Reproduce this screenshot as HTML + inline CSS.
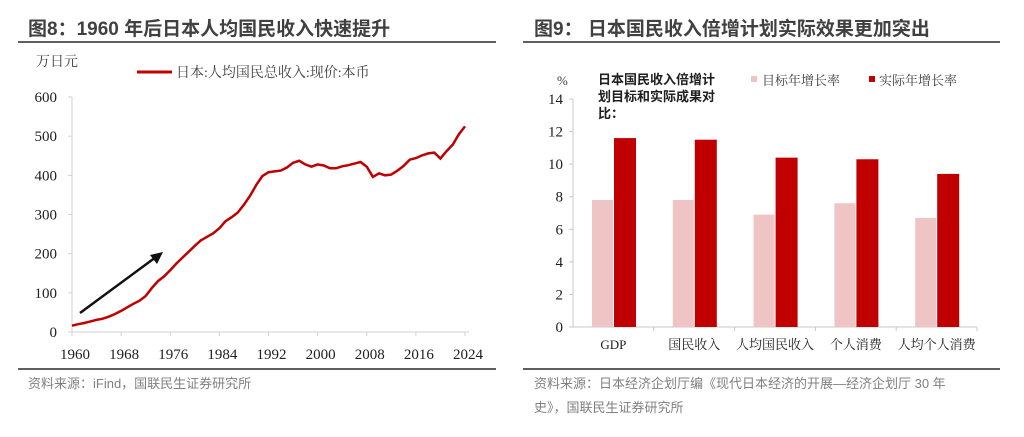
<!DOCTYPE html>
<html><head><meta charset="utf-8">
<style>
body{margin:0;width:1024px;height:432px;background:#fff;overflow:hidden;font-family:"Liberation Sans","Noto Sans CJK SC",sans-serif;}
svg text{font-family:"Liberation Serif","Noto Serif CJK SC",serif;}
.t{font-family:"Liberation Sans","Noto Sans CJK SC",sans-serif;}
</style></head><body>
<svg id="s" width="1024" height="432" xmlns="http://www.w3.org/2000/svg">
<text class="t" x="28" y="35" font-size="19" font-weight="bold" fill="#404040">图8：1960 年后日本人均国民收入快速提升</text>
<line x1="18" y1="42" x2="496" y2="42" stroke="#606060" stroke-width="2"/>
<text class="t" x="534" y="35" font-size="19" font-weight="bold" fill="#404040">图9：  日本国民收入倍增计划实际效果更加突出</text>
<line x1="523" y1="42" x2="1000" y2="42" stroke="#606060" stroke-width="2"/>
<line x1="18" y1="369" x2="496" y2="369" stroke="#606060" stroke-width="2"/>
<line x1="523" y1="369" x2="1000" y2="369" stroke="#606060" stroke-width="2"/>
<text class="t" x="28" y="388" font-size="13" fill="#808080">资料来源：iFind，国联民生证券研究所</text>
<text class="t" x="534" y="388" font-size="13" fill="#808080">资料来源：日本经济企划厅编《现代日本经济的开展—经济企划厅 30 年</text>
<text class="t" x="534" y="412" font-size="13" fill="#808080">史》，国联民生证券研究所</text>
<text x="36" y="66" font-size="14" fill="#404040">万日元</text>
<line x1="137" y1="72" x2="172" y2="72" stroke="#c00000" stroke-width="3"/>
<text x="176" y="77" font-size="14" fill="#404040">日本:人均国民总收入:现价:本币</text>
<g id="left"></g>
<g id="right"></g>
<text x="557" y="85" font-size="13" fill="#404040">%</text>
<text class="t" x="598" y="84" font-size="13" font-weight="bold" fill="#202020">日本国民收入倍增计</text>
<text class="t" x="598" y="101" font-size="13" font-weight="bold" fill="#202020">划目标和实际成果对</text>
<text class="t" x="598" y="118" font-size="13" font-weight="bold" fill="#202020">比：</text>
<rect x="751" y="76" width="6" height="6" fill="#efc4c4"/>
<text x="762" y="85" font-size="13" fill="#404040">目标年增长率</text>
<rect x="869" y="76" width="6" height="6" fill="#c00000"/>
<text x="879" y="85" font-size="13" fill="#404040">实际年增长率</text>
</svg>
<script>
const years=[];for(let y=1960;y<=2024;y++)years.push(y);
const gni=[16,20,23,27,31,34,39,46,54,63,72,80,92,112,130,142,158,175,190,205,220,234,243,252,265,283,293,305,325,348,375,398,408,410,412,420,432,437,428,422,428,425,418,418,423,426,430,434,422,396,405,400,402,412,424,440,444,451,456,458,443,462,478,505,525];
const leftYTicks=[0,100,200,300,400,500,600];
const leftXTicks=[1960,1968,1976,1984,1992,2000,2008,2016,2024];
const cats=["GDP","国民收入","人均国民收入","个人消费","人均个人消费"];
const target=[7.8,7.8,6.9,7.6,6.7];
const actual=[11.6,11.5,10.4,10.3,9.4];
const rightYTicks=[0,2,4,6,8,10,12,14];
const NS="http://www.w3.org/2000/svg";
function mk(p,t,a,txt){const e=document.createElementNS(NS,t);for(const k in a)e.setAttribute(k,a[k]);if(txt!==undefined)e.textContent=txt;p.appendChild(e);return e;}
const L=document.getElementById('left');
const lx=y=>72+(y-1960)*(465-72)/64, ly=v=>332-v*(332-97)/600;
let e=mk(L,'line',{x1:72,y1:97,x2:72,y2:332,stroke:'#d0d0d0'});

e=mk(L,'line',{x1:68,y1:332,x2:469,y2:332,stroke:'#d0d0d0'});

leftYTicks.forEach(v=>{e=mk(L,'text',{x:57,y:ly(v)+5,'font-size':15,'text-anchor':'end',fill:'#202020'},v);

mk(L,'line',{x1:68,y1:ly(v),x2:72,y2:ly(v),stroke:'#d0d0d0'});});
leftXTicks.forEach(y=>{e=mk(L,'text',{x:lx(y)+3,y:359,'font-size':15,'text-anchor':'middle',fill:'#202020'},y);

mk(L,'line',{x1:lx(y),y1:332,x2:lx(y),y2:336,stroke:'#d0d0d0'});});
e=mk(L,'path',{d:gni.map((v,i)=>(i?'L':'M')+lx(years[i]).toFixed(1)+','+ly(v).toFixed(1)).join(''),fill:'none',stroke:'#c00000','stroke-width':2.5});

e=mk(L,'line',{x1:80,y1:313,x2:156,y2:257,stroke:'#111','stroke-width':2.5});

mk(L,'polygon',{points:'163,252 150,255 157,264',fill:'#111'});
const R=document.getElementById('right');
const rx0=573,gw=(977-573)/5, ry=v=>327-v*(327-99)/14;
e=mk(R,'line',{x1:573,y1:99,x2:573,y2:327,stroke:'#c8c8c8'});

e=mk(R,'line',{x1:573,y1:327,x2:977,y2:327,stroke:'#c8c8c8'});

rightYTicks.forEach(v=>{e=mk(R,'text',{x:563,y:ry(v)+5,'font-size':15,'text-anchor':'end',fill:'#202020'},v);

mk(R,'line',{x1:569,y1:ry(v),x2:573,y2:ry(v),stroke:'#c8c8c8'});});
cats.forEach((c,i)=>{const gx=rx0+i*gw;
e=mk(R,'rect',{x:gx+19,y:ry(target[i]),width:21,height:327-ry(target[i]),fill:'#efc4c4'});

e=mk(R,'rect',{x:gx+41,y:ry(actual[i]),width:22,height:327-ry(actual[i]),fill:'#c00000'});

e=mk(R,'text',{x:gx+gw/2,y:349,'font-size':13,'text-anchor':'middle',fill:'#202020'},c);

mk(R,'line',{x1:gx+gw,y1:327,x2:gx+gw,y2:331,stroke:'#c8c8c8'});});
</script>
</body></html>
